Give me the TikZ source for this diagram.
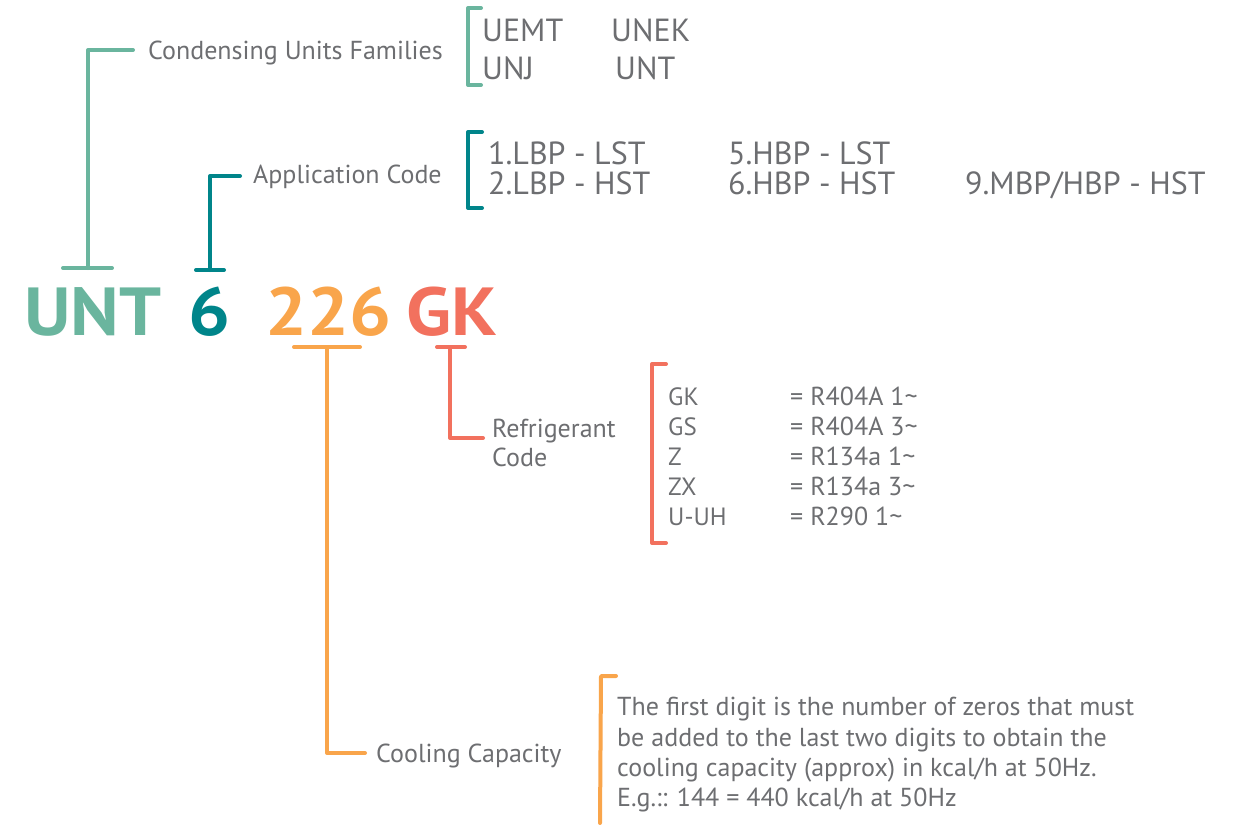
\documentclass[tikz,border=0pt]{standalone}
\usepackage{fontspec}
\setmainfont{PT Sans}
\newfontfamily\bigfont[FakeStretch=1.09]{PT Sans}
\definecolor{cgreen}{HTML}{6AB59E}
\definecolor{cteal}{HTML}{00858A}
\definecolor{corange}{HTML}{F9A54B}
\definecolor{cred}{HTML}{F2715E}
\definecolor{cgray}{HTML}{6D6E71}
\begin{document}
\begin{tikzpicture}[x=1pt,y=-1pt,line cap=round,line join=round,
  lbl/.style={text=cgray,font=\fontsize{26}{30}\selectfont,anchor=base west,inner sep=0pt},
  mid/.style={text=cgray,font=\fontsize{32}{34}\selectfont,anchor=base west,inner sep=0pt},
  sml/.style={text=cgray,font=\fontsize{25}{28}\selectfont,anchor=base west,inner sep=0pt},
  smlw/.style={sml,font=\fontsize{26}{28}\selectfont},
  big/.style={font=\bigfont\fontsize{68}{70}\selectfont\bfseries,anchor=base west,inner sep=0pt},
  link/.style={line width=4pt}]
\useasboundingbox (0,0) rectangle (1243,825);

% big code
\node[big,text=cgreen] (unt) at (24,335) {UNT};
\node[big,text=cteal] (six) at (188,335) {6};
\node[big,text=corange] (cap) at (265,335) {226};
\node[big,text=cred] (gk) at (406,335) {GK};

% green
\coordinate (g1) at (63,268); \coordinate (g2) at (112,268);
\coordinate (gb) at (88,268); \coordinate (gt) at (88,50); \coordinate (ge) at (133,50);
\draw[link,cgreen] (g1) -- (g2);
\draw[link,cgreen] (gb) -- (gt) -- (ge);
\node[lbl] (fam) at (148,59) {Condensing Units Families};
\coordinate (gbt1) at (481,8); \coordinate (gbt2) at (468,8);
\coordinate (gbb1) at (468,85); \coordinate (gbb2) at (481,85);
\draw[link,cgreen] (gbt1) -- (gbt2) -- (gbb1) -- (gbb2);
\node[mid] (uemt) at (482,41) {UEMT};
\node[mid] (unek) at (611,41) {UNEK};
\node[mid] (unj) at (482,79) {UNJ};
\node[mid] (untf) at (615,79) {UNT};

% teal
\coordinate (t1) at (196,270); \coordinate (t2) at (224,270);
\coordinate (tb) at (210,270); \coordinate (tt) at (210,176); \coordinate (te) at (240,176);
\draw[link,cteal] (t1) -- (t2);
\draw[link,cteal] (tb) -- (tt) -- (te);
\node[lbl] (app) at (253,183) {Application Code};
\coordinate (tbt1) at (482,132); \coordinate (tbt2) at (468,132);
\coordinate (tbb1) at (468,208); \coordinate (tbb2) at (482,208);
\draw[link,cteal] (tbt1) -- (tbt2) -- (tbb1) -- (tbb2);
\node[mid] (a1) at (488,164) {1.LBP - LST};
\node[mid] (a5) at (728,164) {5.HBP - LST};
\node[mid] (a2) at (488,194) {2.LBP - HST};
\node[mid] (a6) at (728,194) {6.HBP - HST};
\node[mid] (a9) at (965,194) {9.MBP/HBP - HST};

% orange
\coordinate (o1) at (294,347); \coordinate (o2) at (360,347);
\coordinate (ot) at (327,347); \coordinate (ob) at (327,753); \coordinate (oe) at (365,753);
\draw[link,corange] (o1) -- (o2);
\draw[link,corange] (ot) -- (ob) -- (oe);
\node[lbl] (cool) at (376,762) {Cooling Capacity};
\coordinate (obt1) at (616,676); \coordinate (obt2) at (601,676);
\coordinate (obb) at (600,823);
\draw[link,corange] (obt1) -- (obt2) -- (obb);
\node[lbl] (d1) at (617,715) {The first digit is the number of zeros that must};
\node[lbl] (d2) at (617,746) {be added to the last two digits to obtain the};
\node[lbl] (d3) at (617,776) {cooling capacity (approx) in kcal/h at 50Hz.};
\node[lbl] (d4) at (617,806) {E.g.:: 144 = 440 kcal/h at 50Hz};

% red
\coordinate (r1) at (437,347); \coordinate (r2) at (465,347);
\coordinate (rt) at (450,347); \coordinate (rb) at (450,438); \coordinate (re) at (483,438);
\draw[link,cred] (r1) -- (r2);
\draw[link,cred] (rt) -- (rb) -- (re);
\node[lbl] (ref1) at (492,437) {Refrigerant};
\node[lbl] (ref2) at (492,466) {Code};
\coordinate (rbt1) at (666,364); \coordinate (rbt2) at (652,364);
\coordinate (rbb1) at (652,543); \coordinate (rbb2) at (666,543);
\draw[link,cred] (rbt1) -- (rbt2) -- (rbb1) -- (rbb2);
\node[sml] (k1) at (668,405) {GK};
\node[sml] (k2) at (668,435) {GS};
\node[sml] (k3) at (668,465) {Z};
\node[sml] (k4) at (668,495) {ZX};
\node[sml] (k5) at (668,525) {U-UH};
\node[smlw] (v1) at (790,405) {= R404A 1\textasciitilde};
\node[smlw] (v2) at (790,435) {= R404A 3\textasciitilde};
\node[smlw] (v3) at (790,465) {= R134a 1\textasciitilde};
\node[smlw] (v4) at (790,495) {= R134a 3\textasciitilde};
\node[smlw] (v5) at (790,525) {= R290 1\textasciitilde};
\end{tikzpicture}
\end{document}
